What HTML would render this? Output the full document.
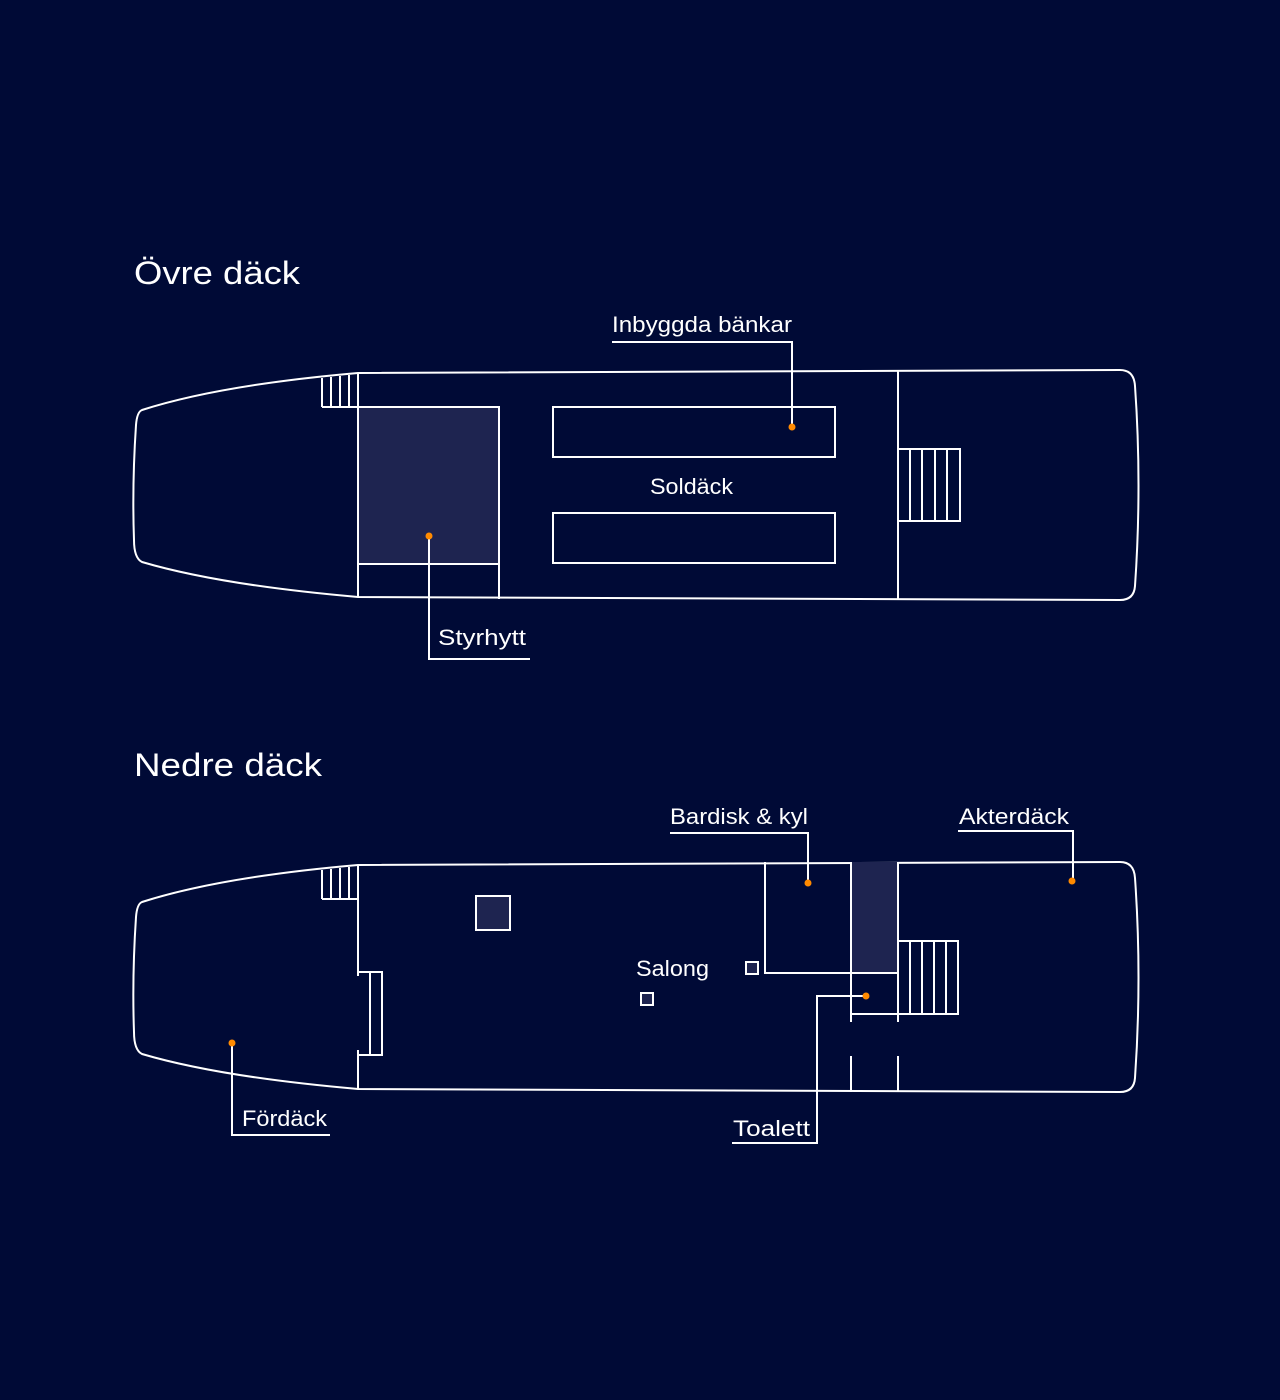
<!DOCTYPE html>
<html><head><meta charset="utf-8"><style>
html,body{margin:0;padding:0;background:#000a36;}
svg{display:block}
text{font-family:"Liberation Sans","DejaVu Sans",sans-serif;fill:#fff}
.t{font-size:32px}
.l{font-size:22px}
</style></head><body>
<svg width="1280" height="1400" viewBox="0 0 1280 1400" xmlns="http://www.w3.org/2000/svg">
<rect width="1280" height="1400" fill="#000a36"/>
<text class="t" x="134" y="284" textLength="166" lengthAdjust="spacingAndGlyphs">Övre däck</text>
<text class="t" x="134" y="776" textLength="188" lengthAdjust="spacingAndGlyphs">Nedre däck</text>
<g fill="none" stroke="#fff" stroke-width="2">
<path d="M142,410 Q220,385 358,373 L1120,370 Q1134,370 1135,386 Q1142,485 1135,586 Q1134,600 1120,600 L358,597 Q220,585 142,562 Q134,558 134,540 Q132,485 136,425 Q137,412 142,410 Z"/>
<rect x="358" y="407" width="141" height="157" fill="#1e2450"/>
<path d="M358,564 V597 M499,564 V599"/>
<path d="M322,407 H358 M322,378 V407 M331,377 V407 M340,376 V407 M349,375 V407 M358,373 V407"/>
<rect x="553" y="407" width="282" height="50"/>
<rect x="553" y="513" width="282" height="50"/>
<path d="M898,370 V600"/>
<rect x="898" y="449" width="62" height="72"/>
<path d="M910,449 V521 M922,449 V521 M935,449 V521 M947,449 V521"/>
<path d="M612,342 H792 V427"/>
<path d="M429,536 V659 H530"/>
<path d="M142,902 Q220,877 358,865 L1120,862 Q1134,862 1135,878 Q1142,977 1135,1078 Q1134,1092 1120,1092 L358,1089 Q220,1077 142,1054 Q134,1050 134,1032 Q132,977 136,917 Q137,904 142,902 Z"/>
<path d="M322,899 H358 M322,870 V899 M331,869 V899 M340,868 V899 M349,867 V899 M358,865 V976 M358,1050 V1089"/>
<path d="M358,972 H382 V1055 H358 M370,972 V1055"/>
<rect x="476" y="896" width="34" height="34" fill="#1e2450"/>
<rect x="746" y="962" width="12" height="12" fill="#1e2450"/>
<rect x="641" y="993" width="12" height="12" fill="#1e2450"/>
<rect x="851" y="862" width="47" height="111" fill="#1e2450" stroke="none"/>
<path d="M765,862 V973 H898"/>
<path d="M851,862 V1022 M898,862 V1022 M851,1056 V1092 M898,1056 V1092 M851,1014 H898"/>
<rect x="898" y="941" width="60" height="73"/>
<path d="M910,941 V1014 M922,941 V1014 M934,941 V1014 M946,941 V1014"/>
<path d="M670,833 H808 V883"/>
<path d="M958,831 H1073 V881"/>
<path d="M866,996 H817 V1143 H732"/>
<path d="M232,1043 V1135 H330"/>
</g>
<g fill="#ff8a00">
<circle cx="792" cy="427" r="3.5"/><circle cx="429" cy="536" r="3.5"/>
<circle cx="808" cy="883" r="3.5"/><circle cx="1072" cy="881" r="3.5"/>
<circle cx="866" cy="996" r="3.5"/><circle cx="232" cy="1043" r="3.5"/>
</g>
<text class="l" x="612" y="332" textLength="180" lengthAdjust="spacingAndGlyphs">Inbyggda bänkar</text>
<text class="l" x="650" y="494" textLength="83" lengthAdjust="spacingAndGlyphs">Soldäck</text>
<text class="l" x="438" y="645" textLength="88" lengthAdjust="spacingAndGlyphs">Styrhytt</text>
<text class="l" x="670" y="824" textLength="138" lengthAdjust="spacingAndGlyphs">Bardisk &amp; kyl</text>
<text class="l" x="959" y="824" textLength="110" lengthAdjust="spacingAndGlyphs">Akterdäck</text>
<text class="l" x="636" y="976" textLength="73" lengthAdjust="spacingAndGlyphs">Salong</text>
<text class="l" x="242" y="1126" textLength="85" lengthAdjust="spacingAndGlyphs">Fördäck</text>
<text class="l" x="733" y="1136" textLength="77" lengthAdjust="spacingAndGlyphs">Toalett</text>
</svg>
</body></html>
